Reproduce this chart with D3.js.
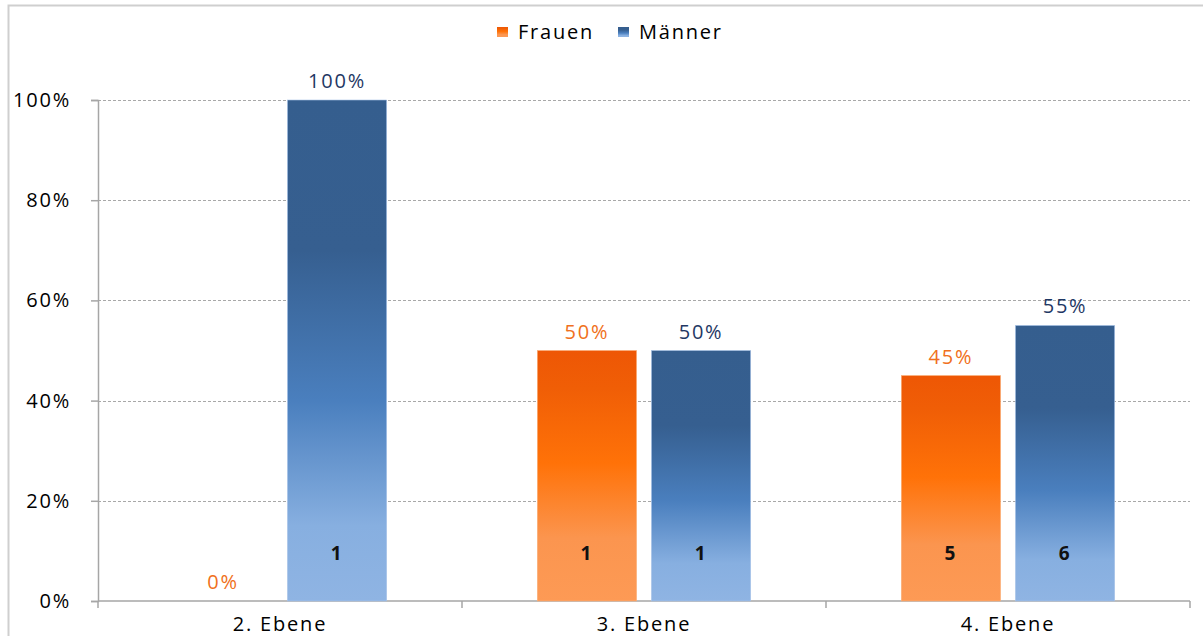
<!DOCTYPE html>
<html>
<head>
<meta charset="utf-8">
<script src="https://cdn.jsdelivr.net/npm/d3@7"></script>
<style>
  body { margin: 0; background: #fff; }
  svg text { font-family: "Open Sans", "DejaVu Sans", sans-serif; letter-spacing: 1.8px; }
</style>
</head>
<body>
<svg id="chart" width="1203" height="636"></svg>
<script>
// data
const categories = ["2. Ebene", "3. Ebene", "4. Ebene"];
const seriesNames = ["Frauen", "Männer"];
const frauenPct = [0, 0.50, 0.45];
const maennerPct = [1.00, 0.50, 0.55];
const frauenCount = [0, 1, 5];
const maennerCount = [1, 1, 6];
const yTicks = [0, 0.2, 0.4, 0.6, 0.8, 1.0];

const svg = d3.select("#chart");
const W = 1203, H = 636;
const m = {left: 98, right: 13, top: 100, bottom: 35};

// outer frame
svg.append("rect").attr("x", 8.5).attr("y", 5.5).attr("width", 1200).attr("height", 700)
  .attr("fill", "none").attr("stroke", "#cfcfcf").attr("stroke-width", 2);

const x0 = d3.scaleBand().domain(categories).range([m.left, W - m.right]);
const x1 = d3.scaleBand().domain(seriesNames).range([0, x0.bandwidth()]).paddingInner(0.13).paddingOuter(0.66);
const y = d3.scaleLinear().domain([0, 1]).range([H - m.bottom, m.top]);

// gradients
const defs = svg.append("defs");
const gOr = defs.append("linearGradient").attr("id", "gFrauen").attr("x1", 0).attr("y1", 0).attr("x2", 0).attr("y2", 1);
[[0, "#ee5705"], [0.15, "#f05e06"], [0.45, "#ff7208"], [0.75, "#fb954f"], [1, "#fd9a55"]]
  .forEach(s => gOr.append("stop").attr("offset", s[0]).attr("stop-color", s[1]));
const gBl = defs.append("linearGradient").attr("id", "gMaenner").attr("x1", 0).attr("y1", 0).attr("x2", 0).attr("y2", 1);
[[0, "#355e8e"], [0.3, "#365f90"], [0.6, "#4a7fbe"], [0.85, "#87afe0"], [1, "#8fb4e3"]]
  .forEach(s => gBl.append("stop").attr("offset", s[0]).attr("stop-color", s[1]));

// gridlines
svg.append("g").selectAll("line").data(yTicks.filter(d => d > 0)).enter().append("line")
  .attr("x1", m.left).attr("x2", W - m.right)
  .attr("y1", d => Math.round(y(d)) + 0.5).attr("y2", d => Math.round(y(d)) + 0.5)
  .attr("stroke", "#a8a8a8").attr("stroke-dasharray", "3,2").attr("stroke-width", 1);

// y axis
const yAxis = svg.append("g").attr("transform", `translate(${m.left},0)`)
  .call(d3.axisLeft(y).tickValues(yTicks).tickFormat(d3.format(".0%")).tickSize(7).tickPadding(20));
yAxis.select(".domain").attr("stroke", "#a6a6a6").attr("stroke-width", 1.5);
yAxis.selectAll(".tick line").attr("stroke", "#a6a6a6").attr("stroke-width", 1.5);
yAxis.selectAll(".tick text").attr("font-size", 20).attr("fill", "#000")
  .attr("font-family", '"Open Sans", "DejaVu Sans", sans-serif');

// x axis
const xAxis = svg.append("g").attr("transform", `translate(0,${y(0)})`);
xAxis.append("line").attr("x1", m.left).attr("x2", W - m.right).attr("y1", 0).attr("y2", 0)
  .attr("stroke", "#a6a6a6").attr("stroke-width", 1.5);
const bounds = categories.map(c => x0(c)).concat([x0(categories[2]) + x0.bandwidth()]);
xAxis.selectAll("line.tk").data(bounds).enter().append("line").attr("class", "tk")
  .attr("x1", d => d).attr("x2", d => d).attr("y1", 0).attr("y2", 7)
  .attr("stroke", "#a6a6a6").attr("stroke-width", 1.5);
xAxis.selectAll("text").data(categories).enter().append("text")
  .attr("x", d => x0(d) + x0.bandwidth() / 2).attr("y", 30)
  .attr("text-anchor", "middle").attr("font-size", 20).attr("fill", "#000").text(d => d);

// bars
const rows = categories.map((c, i) => [
  {cat: c, s: "Frauen", v: frauenPct[i], n: frauenCount[i]},
  {cat: c, s: "Männer", v: maennerPct[i], n: maennerCount[i]}
]).flat();

const barX = d => x0(d.cat) + x1(d.s);
svg.append("g").selectAll("rect").data(rows.filter(d => d.v > 0)).enter().append("rect")
  .attr("x", barX).attr("width", x1.bandwidth())
  .attr("y", d => y(d.v)).attr("height", d => y(0) - y(d.v))
  .attr("fill", d => d.s === "Frauen" ? "url(#gFrauen)" : "url(#gMaenner)")
  .attr("stroke", d => d.s === "Frauen" ? "#fbb07a" : "#a9c4e8").attr("stroke-width", 0.6);

// percent labels
svg.append("g").selectAll("text").data(rows).enter().append("text")
  .attr("x", d => barX(d) + x1.bandwidth() / 2).attr("y", d => y(d.v) - 12)
  .attr("text-anchor", "middle").attr("font-size", 20)
  .attr("fill", d => d.s === "Frauen" ? "#f07020" : "#1f3864")
  .text(d => d3.format(".0%")(d.v));

// count labels
svg.append("g").selectAll("text").data(rows.filter(d => d.n > 0)).enter().append("text")
  .attr("x", d => barX(d) + x1.bandwidth() / 2).attr("y", 560)
  .attr("text-anchor", "middle").attr("font-size", 19).attr("font-weight", "bold").attr("fill", "#111")
  .text(d => d.n);

// legend
const legend = svg.append("g");
const legItems = [{s: "Frauen", x: 497}, {s: "Männer", x: 618}];
legend.selectAll("rect").data(legItems).enter().append("rect")
  .attr("x", d => d.x).attr("y", 27).attr("width", 11).attr("height", 10)
  .attr("fill", d => d.s === "Frauen" ? "url(#gFrauen)" : "url(#gMaenner)");
legend.selectAll("text").data(legItems).enter().append("text")
  .attr("x", d => d.x + 21).attr("y", 39).attr("font-size", 20).attr("fill", "#000").text(d => d.s);
</script>
</body>
</html>
